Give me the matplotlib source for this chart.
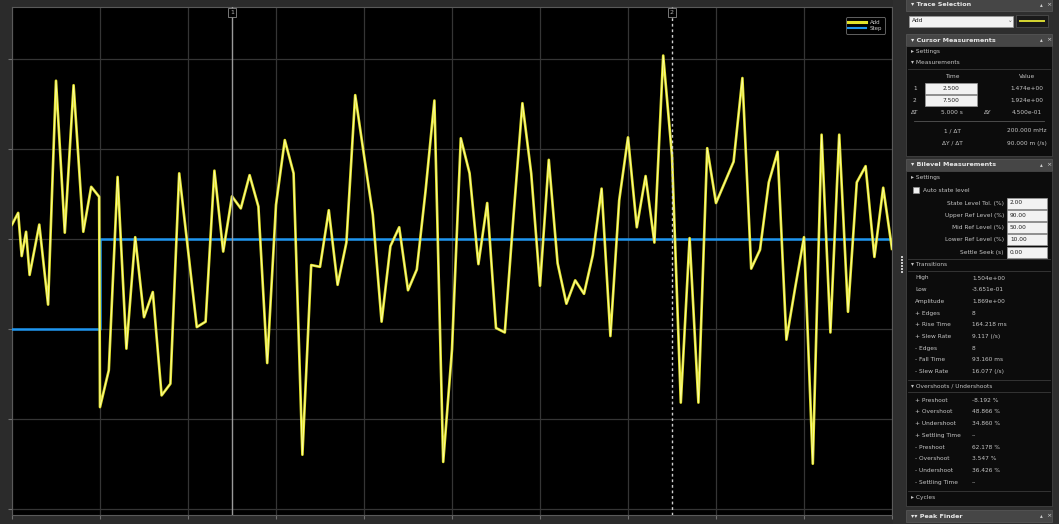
import matplotlib.pyplot as plt
from matplotlib.lines import Line2D
from matplotlib.patches import Rectangle

# ---- scope signals ----
t_add = [0.0, 0.07, 0.11, 0.16, 0.2, 0.31, 0.41, 0.5, 0.6, 0.7, 0.81, 0.9, 0.99, 1.0,
         1.1, 1.2, 1.3, 1.4, 1.5, 1.6, 1.7, 1.8, 1.9, 2.0,
         2.1, 2.2, 2.3, 2.4, 2.5, 2.6, 2.7, 2.8, 2.9, 3.0,
         3.1, 3.2, 3.3, 3.4, 3.5, 3.6, 3.7, 3.8, 3.9, 4.0,
         4.1, 4.2, 4.3, 4.4, 4.5, 4.6, 4.7, 4.8, 4.9, 5.0,
         5.1, 5.2, 5.3, 5.4, 5.5, 5.6, 5.7, 5.8, 5.9, 6.0,
         6.1, 6.2, 6.3, 6.4, 6.5, 6.6, 6.7, 6.8, 6.9, 7.0,
         7.1, 7.2, 7.3, 7.4, 7.5, 7.6, 7.7, 7.8, 7.9, 8.0,
         8.1, 8.2, 8.3, 8.4, 8.5, 8.6, 8.7, 8.8, 8.9, 9.0,
         9.1, 9.2, 9.3, 9.4, 9.5, 9.6, 9.7, 9.8, 9.9, 10.0]
y_add = [1.16, 1.29, 0.81, 1.08, 0.60, 1.16, 0.27, 2.76, 1.07, 2.71, 1.08, 1.58, 1.47, -0.87,
         -0.46, 1.69, -0.22, 1.02, 0.13, 0.41, -0.74, -0.61, 1.73, 0.88,
         0.02, 0.08, 1.76, 0.86, 1.474, 1.34, 1.71, 1.36, -0.38, 1.38,
         2.10, 1.73, -1.40, 0.71, 0.69, 1.32, 0.49, 0.96, 2.60, 1.93,
         1.27, 0.08, 0.92, 1.13, 0.43, 0.66, 1.54, 2.54, -1.48, -0.23,
         2.12, 1.73, 0.72, 1.40, 0.01, -0.04, 1.27, 2.51, 1.73, 0.48,
         1.88, 0.73, 0.28, 0.54, 0.39, 0.82, 1.56, -0.08, 1.43, 2.13,
         1.13, 1.70, 0.96, 3.04, 1.924, -0.82, 1.01, -0.82, 2.01, 1.40,
         1.63, 1.86, 2.79, 0.67, 0.88, 1.63, 1.97, -0.12, 0.46, 1.02,
         -1.50, 2.16, -0.04, 2.16, 0.19, 1.63, 1.81, 0.80, 1.57, 0.89]

t_step = [0.0, 1.0, 10.0]
y_step = [0.0, 1.0, 1.0]

cursor_times = [2.5, 7.5]
y_ticks = [-2, -1, 0, 1, 2, 3]
x_ticks = [0, 1, 2, 3, 4, 5, 6, 7, 8, 9, 10]

W, H = 1059, 524
fig = plt.figure(figsize=(W / 100, H / 100), dpi=100, facecolor='#2b2b2b')

# ---- scope display ----
ax = fig.add_axes([12 / W, (H - 515) / H, 880 / W, 508 / H], facecolor='black')
ax.set_xlim(0, 10)
ax.set_ylim(-2.07, 3.58)
ax.set_xticks(x_ticks)
ax.set_yticks(y_ticks)
ax.set_xticklabels([])
ax.set_yticklabels([])
ax.tick_params(colors='#707070', length=3, width=0.8)
ax.grid(True, color='#353535', linewidth=0.9)
for s in ax.spines.values():
    s.set_color('#5a5a5a')

ax.plot(t_step, y_step, drawstyle='steps-post', color='#1e96f0', linewidth=1.8, zorder=3)
ax.plot(t_add, y_add, color='#e2e22a', linewidth=1.9, zorder=4)
ax.plot(t_add, y_add, color='#ffffa8', linewidth=0.6, zorder=5)

# cursors
ax.axvline(cursor_times[0], color='#9a9a9a', linewidth=1.0, zorder=6)
ax.axvline(cursor_times[1], color='#d0d0d0', linewidth=1.0, linestyle=(0, (2, 2)), zorder=6)
for k, ct in enumerate(cursor_times):
    ax.text(ct, 3.55, str(k + 1), color='#b0b0b0', fontsize=4.5, ha='center', va='top',
            bbox=dict(boxstyle='square,pad=0.3', facecolor='black', edgecolor='#8a8a8a', linewidth=0.6),
            zorder=7)

handles = [Line2D([], [], color='#e2e22a', linewidth=2.2),
           Line2D([], [], color='#1e96f0', linewidth=1.5)]
leg = ax.legend(handles, ['Add', 'Step'], loc='upper right', fontsize=4, labelcolor='#c8c8c8',
                facecolor='black', edgecolor='#707070', framealpha=1, handlelength=3.2,
                borderpad=0.4, labelspacing=0.3, bbox_to_anchor=(0.995, 0.985))
leg.get_frame().set_linewidth(0.6)

# ---- measurement panel ----
pn = fig.add_axes([893 / W, 0, (W - 893) / W, 1])
pn.set_xlim(893, W)
pn.set_ylim(H, 0)
pn.axis('off')
pn.add_patch(Rectangle((893, 0), W - 893, H, facecolor='#2e2e2e', edgecolor='none'))
for yy in range(256, 274, 3):
    pn.add_patch(Rectangle((901, yy), 2, 1.5, facecolor='#c8c8c8', edgecolor='none'))

txt = dict(color='#c4c4c4', fontsize=4.2, va='center')
hdr = dict(color='#e8e8e8', fontsize=4.6, va='center', fontweight='bold')


def header(y, label):
    pn.add_patch(Rectangle((906, y - 6), 146, 12, facecolor='#464646', edgecolor='#5a5a5a', linewidth=0.5))
    pn.text(911, y, label, **hdr)
    pn.text(1040, y, '▴', color='#d0d0d0', fontsize=4, va='center')
    pn.text(1046, y, '×', color='#d0d0d0', fontsize=4.5, va='center')


def content(y0, y1):
    pn.add_patch(Rectangle((906, y0), 146, y1 - y0, facecolor='#0c0c0c', edgecolor='#4a4a4a', linewidth=0.5))


def field(x0, y, w, label, align='center'):
    pn.add_patch(Rectangle((x0, y - 5.5), w, 11, facecolor='#f2f2f2', edgecolor='#9a9a9a', linewidth=0.5))
    if align == 'center':
        pn.text(x0 + w / 2, y, label, color='#202020', fontsize=4.2, va='center', ha='center')
    else:
        pn.text(x0 + 3, y, label, color='#202020', fontsize=4.2, va='center')


# trace selection
header(5, '▾ Trace Selection')
field(909, 21, 104, 'Add', align='left')
pn.text(1008, 21, '⌄', color='#606060', fontsize=4, va='center')
pn.add_patch(Rectangle((1016, 15), 32, 12, facecolor='#1a1a1a', edgecolor='#555555', linewidth=0.5))
pn.plot([1020, 1044], [21, 21], color='#d8d832', linewidth=1.4)

# cursor measurements
header(40, '▾ Cursor Measurements')
content(46, 156)
pn.text(911, 52, '▸ Settings', **txt)
pn.text(911, 63, '▾ Measurements', **txt)
pn.plot([908, 1050], [69, 69], color='#3a3a3a', linewidth=0.6)
pn.text(952, 76, 'Time', ha='center', **txt)
pn.text(1027, 76, 'Value', ha='center', **txt)

v1 = y_add[t_add.index(cursor_times[0])]
v2 = y_add[t_add.index(cursor_times[1])]
dt = cursor_times[1] - cursor_times[0]
dy = v2 - v1
pn.text(913, 88, '1', **txt)
pn.text(913, 100, '2', **txt)
field(925, 88, 52, f'{cursor_times[0]:.3f}')
field(925, 100, 52, f'{cursor_times[1]:.3f}')
pn.text(1027, 88, f'{v1:.3e}', ha='center', **txt)
pn.text(1027, 100, f'{v2:.3e}', ha='center', **txt)
pn.text(911, 112, 'ΔT', **txt)
pn.text(952, 112, f'{dt:.3f} s', ha='center', **txt)
pn.text(984, 112, 'ΔY', **txt)
pn.text(1027, 112, f'{dy:.3e}', ha='center', **txt)
pn.plot([914, 1044], [121, 121], color='#555555', linewidth=0.6)
pn.text(952, 131, '1 / ΔT', ha='center', **txt)
pn.text(1027, 131, f'{1000 / dt:.3f} mHz', ha='center', **txt)
pn.text(952, 143, 'ΔY / ΔT', ha='center', **txt)
pn.text(1027, 143, f'{1000 * dy / dt:.3f} m (/s)', ha='center', **txt)

# bilevel measurements
header(165, '▾ Bilevel Measurements')
content(171, 506)
pn.text(911, 177, '▸ Settings', **txt)
pn.add_patch(Rectangle((913, 187), 6, 6, facecolor='#f0f0f0', edgecolor='#909090', linewidth=0.5))
pn.text(923, 190, 'Auto state level', **txt)
settings = [('State Level Tol. (%)', '2.00'), ('Upper Ref Level (%)', '90.00'),
            ('Mid Ref Level (%)', '50.00'), ('Lower Ref Level (%)', '10.00'),
            ('Settle Seek (s)', '0.00')]
for k, (lab, val) in enumerate(settings):
    yy = 203 + k * 12.3
    pn.text(1004, yy, lab, ha='right', **txt)
    field(1007, yy, 40, val, align='left')

pn.plot([908, 1050], [259, 259], color='#3a3a3a', linewidth=0.6)
pn.text(911, 265, '▾ Transitions', **txt)
pn.plot([908, 1050], [271, 271], color='#3a3a3a', linewidth=0.6)
transitions = [('High', '1.504e+00'), ('Low', '-3.651e-01'), ('Amplitude', '1.869e+00'),
               ('+ Edges', '8'), ('+ Rise Time', '164.218 ms'), ('+ Slew Rate', '9.117 (/s)'),
               ('- Edges', '8'), ('- Fall Time', '93.160 ms'), ('- Slew Rate', '16.077 (/s)')]
for k, (lab, val) in enumerate(transitions):
    yy = 278 + k * 11.7
    pn.text(915, yy, lab, **txt)
    pn.text(972, yy, val, **txt)

pn.plot([908, 1050], [380, 380], color='#3a3a3a', linewidth=0.6)
pn.text(911, 386, '▾ Overshoots / Undershoots', **txt)
pn.plot([908, 1050], [392, 392], color='#3a3a3a', linewidth=0.6)
shoots = [('+ Preshoot', '-8.192 %'), ('+ Overshoot', '48.866 %'), ('+ Undershoot', '34.860 %'),
          ('+ Settling Time', '--'), ('- Preshoot', '62.178 %'), ('- Overshoot', '3.547 %'),
          ('- Undershoot', '36.426 %'), ('- Settling Time', '--')]
for k, (lab, val) in enumerate(shoots):
    yy = 400 + k * 11.8
    pn.text(915, yy, lab, **txt)
    pn.text(972, yy, val, **txt)

pn.plot([908, 1050], [491, 491], color='#3a3a3a', linewidth=0.6)
pn.text(911, 497, '▸ Cycles', **txt)
header(516, '▾▾ Peak Finder')

fig.savefig('out.png', dpi=100, facecolor=fig.get_facecolor())
